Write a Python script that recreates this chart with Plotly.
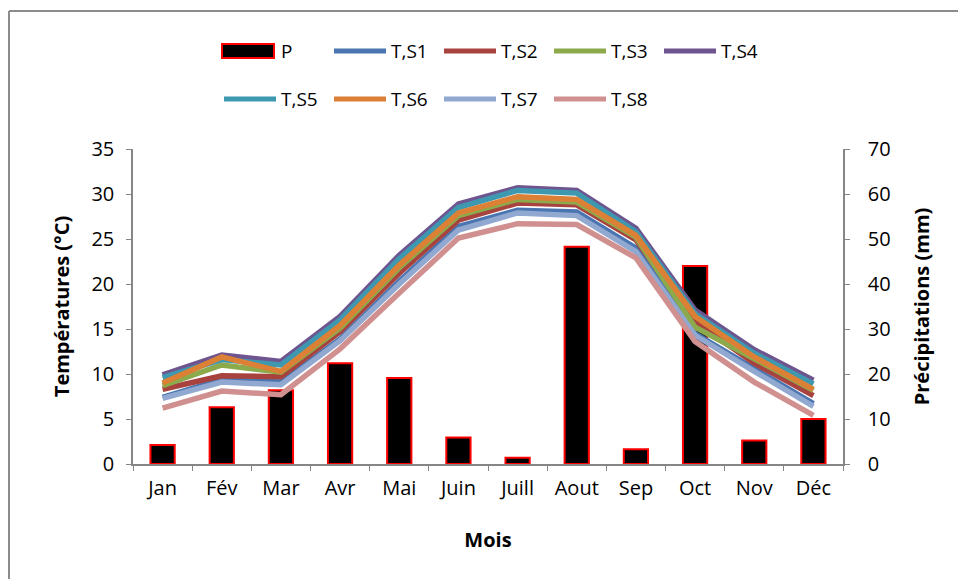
import plotly.graph_objects as go

# Months
mois = ["Jan", "Fév", "Mar", "Avr", "Mai", "Juin", "Juill", "Aout", "Sep", "Oct", "Nov", "Déc"]

# Monthly precipitation (mm)
precip = [4.2, 12.6, 16.4, 22.4, 19.1, 5.9, 1.4, 48.3, 3.3, 44.0, 5.2, 10.0]

# Monthly mean temperatures (°C) per station
t_s1 = [7.4, 9.4, 9.1, 13.9, 20.3, 26.4, 28.2, 28.0, 24.0, 14.5, 10.6, 6.7]
t_s2 = [8.3, 9.8, 9.7, 14.7, 21.2, 27.1, 29.0, 28.8, 24.9, 15.8, 11.2, 7.6]
t_s3 = [8.7, 11.0, 10.2, 15.1, 21.8, 27.6, 29.4, 29.1, 25.2, 15.2, 11.7, 8.2]
t_s4 = [9.9, 12.1, 11.4, 16.4, 23.2, 28.9, 30.7, 30.4, 26.2, 17.1, 12.7, 9.3]
t_s5 = [9.6, 11.6, 11.0, 16.0, 22.8, 28.5, 30.4, 30.1, 25.8, 16.7, 12.3, 8.9]
t_s6 = [9.0, 11.9, 10.3, 15.4, 22.1, 27.9, 29.7, 29.4, 25.4, 16.4, 11.9, 8.3]
t_s7 = [7.3, 9.1, 8.8, 13.7, 20.0, 26.0, 27.9, 27.6, 23.6, 14.3, 10.3, 6.4]
t_s8 = [6.2, 8.1, 7.7, 12.8, 19.0, 25.1, 26.7, 26.6, 22.9, 13.6, 9.1, 5.4]

series_names = ["T,S1", "T,S2", "T,S3", "T,S4", "T,S5", "T,S6", "T,S7", "T,S8"]
series_values = [t_s1, t_s2, t_s3, t_s4, t_s5, t_s6, t_s7, t_s8]
series_colors = ["#4A75B0", "#A8423F", "#8CAA4B", "#6E558F",
                 "#3D98B0", "#DB8035", "#91A8D0", "#D09090"]

FONT = "Open Sans"
AXIS_GREY = "#868686"
TICK_SIZE = 20
TITLE_SIZE = 20
LEGEND_SIZE = 19

W, H = 958, 579
ML, MR, MT, MB = 133, 115, 149, 115
PW, PH = W - ML - MR, H - MT - MB


def px_x(px):
    return (px - ML) / PW


def px_y(py):
    return (H - MB - py) / PH


fig = go.Figure()

# Precipitation bars (right axis)
fig.add_trace(go.Bar(
    x=mois, y=precip, name="P", yaxis="y", width=0.41,
    marker=dict(color="black", line=dict(color="#FF0000", width=2)),
    showlegend=False,
))

# Temperature lines (left axis, drawn over the bars)
for name, vals, col in zip(series_names, series_values, series_colors):
    fig.add_trace(go.Scatter(
        x=mois, y=vals, name=name, yaxis="y2", mode="lines",
        line=dict(color=col, width=5.5),
        showlegend=False,
    ))

# Hand-built legend: P + S1..S4 on the first row, S5..S8 on the second
shapes = []
annotations = []
legend_items = [("P", None)] + list(zip(series_names, series_colors))
row_y = [51, 99]
for i, (label, col) in enumerate(legend_items):
    if i < 5:
        row, k = 0, i
    else:
        row, k = 1, i - 5
    x0 = 222 + 110 * k
    yc = row_y[row]
    if col is None:
        shapes.append(dict(type="rect", xref="paper", yref="paper",
                           x0=px_x(x0), x1=px_x(x0 + 52),
                           y0=px_y(yc + 7), y1=px_y(yc - 7),
                           fillcolor="black", line=dict(color="#FF0000", width=2)))
    else:
        shapes.append(dict(type="line", xref="paper", yref="paper",
                           x0=px_x(x0 + 2), x1=px_x(x0 + 54),
                           y0=px_y(yc), y1=px_y(yc),
                           line=dict(color=col, width=5)))
    annotations.append(dict(text=label, xref="paper", yref="paper",
                            x=px_x(x0 + 57), y=px_y(yc),
                            xanchor="left", yanchor="middle", showarrow=False,
                            font=dict(family=FONT, size=LEGEND_SIZE, color="black")))

# Outer chart frame (left and top edges)
shapes.append(dict(type="line", xref="paper", yref="paper",
                   x0=px_x(9), x1=px_x(9), y0=px_y(11), y1=px_y(600),
                   line=dict(color="#8C8C8C", width=2)))
shapes.append(dict(type="line", xref="paper", yref="paper",
                   x0=px_x(9), x1=px_x(980), y0=px_y(11), y1=px_y(11),
                   line=dict(color="#8C8C8C", width=2)))

fig.update_layout(
    width=W, height=H,
    margin=dict(l=ML, r=MR, t=MT, b=MB),
    paper_bgcolor="white", plot_bgcolor="white",
    font=dict(family=FONT, size=TICK_SIZE, color="black"),
    showlegend=False,
    xaxis=dict(
        type="category", categoryorder="array", categoryarray=mois,
        showline=True, linecolor=AXIS_GREY, linewidth=1.5,
        ticks="outside", tickson="boundaries", ticklen=5, tickcolor=AXIS_GREY,
        tickfont=dict(family=FONT, size=TICK_SIZE, color="black"),
        ticklabelstandoff=5,
        showgrid=False,
        title=dict(text="<b>Mois</b>", font=dict(family=FONT, size=TITLE_SIZE), standoff=33),
    ),
    yaxis=dict(
        side="right", range=[0, 70], dtick=10,
        showline=True, linecolor=AXIS_GREY, linewidth=1.5,
        ticks="outside", ticklen=5, tickcolor=AXIS_GREY,
        tickfont=dict(family=FONT, size=TICK_SIZE, color="black"),
        ticklabelstandoff=14,
        showgrid=False, zeroline=False,
        title=dict(text="<b>Précipitations (mm)</b>", font=dict(family=FONT, size=TITLE_SIZE), standoff=25),
    ),
    yaxis2=dict(
        overlaying="y", side="left", range=[0, 35], dtick=5,
        showline=True, linecolor=AXIS_GREY, linewidth=1.5,
        ticks="outside", ticklen=5, tickcolor=AXIS_GREY,
        tickfont=dict(family=FONT, size=TICK_SIZE, color="black"),
        ticklabelstandoff=8,
        showgrid=False, zeroline=False,
        title=dict(text="<b>Températures (°C)</b>", font=dict(family=FONT, size=TITLE_SIZE), standoff=16),
    ),
    shapes=shapes,
    annotations=annotations,
)

fig.write_html("out.html")
